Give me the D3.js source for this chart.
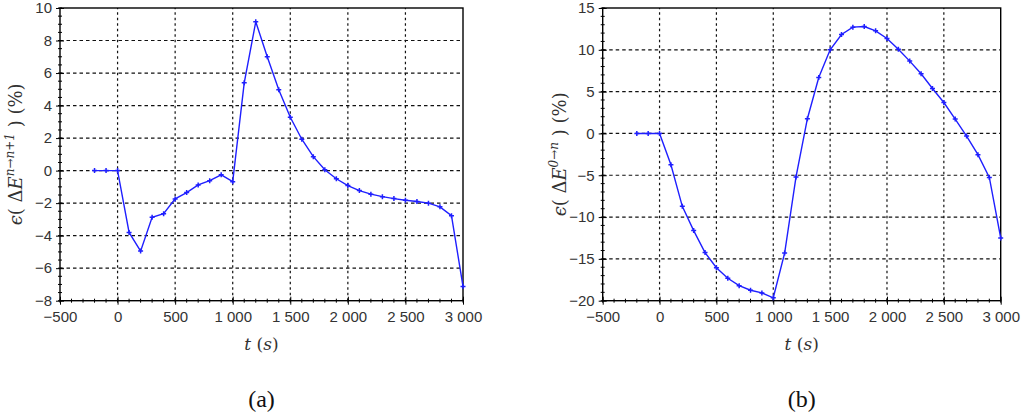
<!DOCTYPE html>
<html>
<head>
<meta charset="utf-8">
<script src="https://cdn.jsdelivr.net/npm/d3@7"></script>
<style>
  body { margin: 0; background: #fff; }
  svg { display: block; }
  .tick text { font-family: 'Liberation Sans', Arial, sans-serif; font-size: 15px; fill: #333; }
</style>
</head>
<body>
<svg id="chart" width="1026" height="414"></svg>
<script>
// time steps (s), shared by both panels
var times = [-200, -100, 0, 100, 200, 300, 400, 500, 600, 700, 800, 900, 1000,
  1100, 1200, 1300, 1400, 1500, 1600, 1700, 1800, 1900, 2000, 2100, 2200,
  2300, 2400, 2500, 2600, 2700, 2800, 2900, 3000];

// (a) error on the step increment, %
var errStep = [0, 0, 0, -3.8, -4.95, -2.87, -2.65, -1.74, -1.35, -0.88, -0.62, -0.26, -0.68,
  5.4, 9.15, 7.0, 4.97, 3.28, 1.93, 0.86, 0.05, -0.5, -0.92, -1.23, -1.45,
  -1.6, -1.72, -1.82, -1.9, -2.0, -2.23, -2.77, -7.12];

// (b) cumulative error, %
var errCum = [0, 0, 0, -3.75, -8.72, -11.62, -14.25, -16.05, -17.32, -18.2, -18.75, -19.07, -19.65,
  -14.3, -5.2, 1.76, 6.69, 10.0, 11.83, 12.71, 12.78, 12.27, 11.35, 10.08, 8.65,
  7.13, 5.38, 3.7, 1.72, -0.31, -2.54, -5.26, -12.5];

var xTicks = [-500, 0, 500, 1000, 1500, 2000, 2500, 3000];
var yTicksA = [-8, -6, -4, -2, 0, 2, 4, 6, 8, 10];
var yTicksB = [-20, -15, -10, -5, 0, 5, 10, 15];

var loc = d3.formatLocale({decimal: ".", thousands: " ", grouping: [3], currency: ["", ""], minus: "\u2212"});
var fmt = loc.format(",d");

var svg = d3.select("#chart");

function drawPanel(cfg) {
  var g = svg.append("g");
  var x = d3.scaleLinear().domain([-500, 3000]).range([cfg.left, cfg.right]);
  var y = d3.scaleLinear().domain(cfg.ydom).range([300.7, 8]);

  // grid
  g.selectAll("line.hg")
    .data(cfg.yticks.slice(1, -1))
    .enter()
    .append("line")
    .attr("x1", x(-500)).attr("x2", x(3000))
    .attr("y1", function(d){ return y(d); })
    .attr("y2", function(d){ return y(d); })
    .attr("stroke", "#111").attr("stroke-width", 1.2)
    .attr("stroke-dasharray", "3.5,3");
  g.selectAll("line.vg")
    .data(xTicks.slice(1, -1))
    .enter()
    .append("line")
    .attr("y1", y(cfg.ydom[0])).attr("y2", y(cfg.ydom[1]))
    .attr("x1", function(d){ return x(d); })
    .attr("x2", function(d){ return x(d); })
    .attr("stroke", "#111").attr("stroke-width", 1.2)
    .attr("stroke-dasharray", "2.5,3");

  // minor ticks
  var xMinor = d3.range(-500, 3001, 100);
  var yMinor = d3.range(cfg.ydom[0], cfg.ydom[1] + 0.001, cfg.ystep);
  g.selectAll("line.xm")
    .data(xMinor)
    .enter()
    .append("line")
    .attr("x1", function(d){ return x(d); })
    .attr("x2", function(d){ return x(d); })
    .attr("y1", y(cfg.ydom[0]) - 2).attr("y2", y(cfg.ydom[0]) + 2)
    .attr("stroke", "#000").attr("stroke-width", 1);
  g.selectAll("line.ym")
    .data(yMinor)
    .enter()
    .append("line")
    .attr("y1", function(d){ return y(d); })
    .attr("y2", function(d){ return y(d); })
    .attr("x1", x(-500) - 2).attr("x2", x(-500) + 2)
    .attr("stroke", "#000").attr("stroke-width", 1);

  // axes with major ticks crossing the frame
  var xAxis = g.append("g")
    .attr("transform", "translate(0," + y(cfg.ydom[0]) + ")")
    .call(d3.axisBottom(x).tickValues(xTicks).tickFormat(fmt).tickSizeInner(4).tickSizeOuter(0).tickPadding(7));
  xAxis.selectAll(".tick line").attr("y1", -4);
  var yAxis = g.append("g")
    .attr("transform", "translate(" + x(-500) + ",0)")
    .call(d3.axisLeft(y).tickValues(cfg.yticks).tickFormat(fmt).tickSizeInner(4).tickSizeOuter(0).tickPadding(4));
  yAxis.selectAll(".tick line").attr("x1", 4);
  g.selectAll(".domain").remove();

  // frame
  g.append("rect")
    .attr("x", x(-500)).attr("y", y(cfg.ydom[1]))
    .attr("width", x(3000) - x(-500))
    .attr("height", y(cfg.ydom[0]) - y(cfg.ydom[1]))
    .attr("fill", "none").attr("stroke", "#000").attr("stroke-width", 1.4);

  // series
  var pts = times.map(function(t, i){ return [t, cfg.values[i]]; });
  var line = d3.line()
    .x(function(d){ return x(d[0]); })
    .y(function(d){ return y(d[1]); });
  g.append("path")
    .datum(pts)
    .attr("d", line)
    .attr("fill", "none")
    .attr("stroke", "#1f1fff")
    .attr("stroke-width", 1.4);
  g.selectAll("path.mk")
    .data(pts)
    .enter()
    .append("path")
    .attr("d", function(d){
      var px = x(d[0]), py = y(d[1]);
      return "M" + (px - 2.5) + "," + py + "H" + (px + 2.5) + "M" + px + "," + (py - 2.5) + "V" + (py + 2.5);
    })
    .attr("stroke", "#1f1fff")
    .attr("stroke-width", 1.5);

  // x axis title
  var cx = (x(-500) + x(3000)) / 2;
  var xt = g.append("text")
    .attr("x", cx).attr("y", 350)
    .attr("text-anchor", "middle")
    .attr("font-family", "'DejaVu Serif', serif")
    .attr("font-size", 17)
    .attr("fill", "#333");
  xt.append("tspan").attr("font-style", "italic").text("t");
  xt.append("tspan").text(" (");
  xt.append("tspan").attr("font-style", "italic").text("s");
  xt.append("tspan").text(")");

  // y axis title
  var yt = g.append("text")
    .attr("transform", "translate(" + cfg.ytx + "," + ((y(cfg.ydom[0]) + y(cfg.ydom[1])) / 2) + ") rotate(-90)")
    .attr("text-anchor", "middle")
    .attr("font-family", "'DejaVu Serif', serif")
    .attr("font-size", 18)
    .attr("fill", "#333");
  yt.append("tspan").attr("font-style", "italic").text("\u03f5");
  yt.append("tspan").text("( \u0394");
  yt.append("tspan").attr("font-style", "italic").text("E");
  yt.append("tspan").attr("font-size", 12).attr("dy", -8).attr("font-style", "italic").text(cfg.sup);
  yt.append("tspan").attr("dy", 8).text(" )  (%)");

  // panel label
  g.append("text")
    .attr("x", cx).attr("y", 407)
    .attr("text-anchor", "middle")
    .attr("font-family", "'Liberation Serif', serif")
    .attr("font-size", 24)
    .attr("fill", "#111")
    .text(cfg.label);
}

drawPanel({left: 60, right: 463, ydom: [-8, 10], yticks: yTicksA, ystep: 0.5,
  values: errStep, sup: "n\u2192n+1", ytx: 22, label: "(a)"});
drawPanel({left: 602.7, right: 1000.7, ydom: [-20, 15], yticks: yTicksB, ystep: 1,
  values: errCum, sup: "0\u2192n", ytx: 566, label: "(b)"});
</script>
</body>
</html>
